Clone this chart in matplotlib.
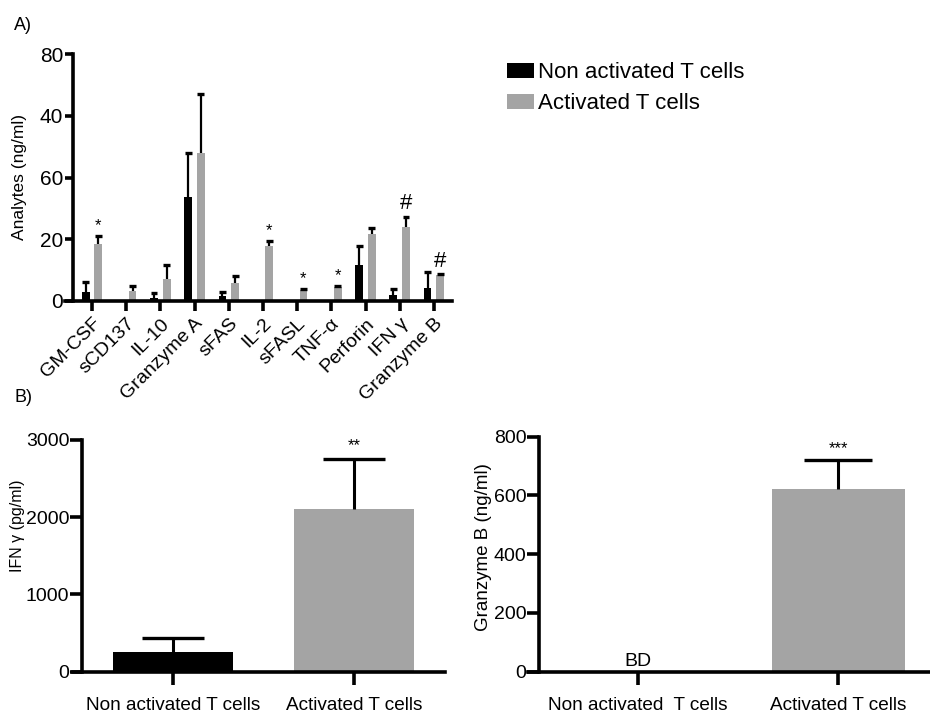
import matplotlib
matplotlib.use("Agg")
import matplotlib.pyplot as plt
import numpy as np
from matplotlib.patches import Patch

plt.rcParams['font.family'] = ['Liberation Sans', 'DejaVu Sans']

# ---- Panel A data ----
analytes = ["GM-CSF", "sCD137", "IL-10", "Granzyme A", "sFAS", "IL-2",
            "sFASL", "TNF-\u03b1", "Perforin", "IFN \u03b3", "Granzyme B"]
non_act = [3.0, 0.3, 0.9, 33.8, 1.7, 0.0, 0.3, 0.1, 11.8, 2.0, 4.1]
non_act_err = [3.3, 0.0, 1.8, 14.0, 1.1, 0.0, 0.0, 0.0, 6.0, 1.9, 5.4]
act = [18.4, 3.2, 7.0, 47.8, 5.7, 17.8, 3.6, 4.6, 21.6, 24.0, 8.4]
act_err = [2.7, 1.7, 4.5, 19.4, 2.4, 1.7, 0.2, 0.2, 2.1, 3.3, 0.2]
sig_marks = ["*", "", "", "", "", "*", "*", "*", "", "#", "#"]
a_yticks = [0, 20, 40, 60, 80]
a_yticklabels = ["0", "20", "60", "40", "80"]

# ---- Panel B data ----
groups = ["Non activated T cells", "Activated T cells"]
groups_right = ["Non activated  T cells", "Activated T cells"]
ifng = [259, 2107]
ifng_err = [173, 643]
gzmb = [0, 621]
gzmb_err = [0, 100]

W, H = 930, 713
BLACK = "#000000"
GREY = "#a4a4a4"

fig = plt.figure(figsize=(W / 100, H / 100), dpi=100)


def add_ax(x0, x1, ytop, ybot):
    return fig.add_axes([x0 / W, 1 - ybot / H, (x1 - x0) / W, (ybot - ytop) / H])


def style(ax, lw=2.6):
    for s in ("top", "right"):
        ax.spines[s].set_visible(False)
    for s in ("left", "bottom"):
        ax.spines[s].set_linewidth(lw)
    ax.tick_params(width=lw, length=6, direction="out", colors="black")


def upper_err(ax, xs, ys, es, half, lw=1.6, cap_lw=2.4):
    """Draw one-sided (upward) error bars with a flat cap."""
    xs = np.asarray(xs, float)
    ys = np.asarray(ys, float)
    es = np.asarray(es, float)
    keep = es > 0
    ax.vlines(xs[keep], ys[keep], ys[keep] + es[keep], color="black", lw=lw, zorder=3)
    ax.hlines(ys[keep] + es[keep], xs[keep] - half, xs[keep] + half, color="black",
              lw=cap_lw, zorder=3)


# ---------------- Panel A ----------------
axA = add_ax(65, 452, 54, 301)
style(axA)
x = np.arange(len(analytes))
bw = 0.23
off = 0.185
axA.bar(x - off, non_act, bw, color=BLACK, zorder=2)
axA.bar(x + off, act, bw, color=GREY, zorder=2)
upper_err(axA, x - off, non_act, non_act_err, 0.1)
upper_err(axA, x + off, act, act_err, 0.1)
for xi, v, e, m in zip(x, act, act_err, sig_marks):
    if m == "*":
        axA.text(xi + off, v + e + 1.0, m, ha="center", va="bottom", fontsize=12)
    elif m == "#":
        axA.text(xi + off, v + e + 0.8, m, ha="center", va="bottom", fontsize=16)
axA.set_xlim(-0.79, 10.53)
axA.set_ylim(0, 80)
axA.spines["left"].set_position(("data", -0.556))
axA.spines["left"].set_bounds(0, 80)
axA.set_yticks(a_yticks)
axA.set_yticklabels(a_yticklabels, fontsize=15)
axA.tick_params(axis="y", pad=1, length=6)
axA.set_xticks(x)
axA.set_xticklabels(analytes, rotation=45, ha="right", va="top",
                    rotation_mode="anchor", fontsize=14)
axA.tick_params(axis="x", length=7, pad=3)
axA.set_ylabel("Analytes (ng/ml)", fontsize=12.5)
axA.yaxis.set_label_coords(-0.097, 0.5)

fig.text(14 / W, 1 - 25 / H, "A)", fontsize=13, va="center", ha="left")

# legend
handles = [Patch(facecolor=BLACK, edgecolor="none"), Patch(facecolor=GREY, edgecolor="none")]
fig.legend(handles, ["Non activated T cells", "Activated T cells"],
           loc="upper left", bbox_to_anchor=(507 / W, 1 - 62 / H), frameon=False,
           fontsize=16, handlelength=1.2, handleheight=0.65, handletextpad=0.2,
           labelspacing=0.45, borderaxespad=0, borderpad=0)

# ---------------- Panel B left ----------------
fig.text(14 / W, 1 - 397 / H, "B)", fontsize=13, va="center", ha="left")

axB1 = add_ax(73, 445, 440, 671.7)
style(axB1)
xb = np.arange(2)
bwb = 0.665
axB1.bar(xb, ifng, bwb, color=[BLACK, GREY], zorder=2)
upper_err(axB1, xb, ifng, ifng_err, 0.17, lw=2.2, cap_lw=2.4)
axB1.text(1, ifng[1] + ifng_err[1] + 80, "**", ha="center", va="bottom", fontsize=12)
axB1.set_xlim(-0.552, 1.503)
axB1.set_ylim(0, 3000)
axB1.spines["left"].set_position(("data", -0.503))
axB1.spines["left"].set_bounds(0, 3000)
axB1.set_yticks([0, 1000, 2000, 3000])
axB1.set_yticklabels(["0", "1000", "2000", "3000"], fontsize=14)
axB1.tick_params(axis="y", pad=0, length=9)
axB1.set_xticks(xb)
axB1.set_xticklabels(groups, fontsize=13.7)
axB1.tick_params(axis="x", length=9, pad=9)
axB1.set_ylabel("IFN \u03b3 (pg/ml)", fontsize=11.5)
axB1.yaxis.set_label_coords(-0.13, 0.63)

# ---------------- Panel B right ----------------
axB2 = add_ax(528, 930, 436.7, 671.7)
style(axB2)
axB2.bar(xb, gzmb, bwb, color=[BLACK, GREY], zorder=2)
upper_err(axB2, xb, gzmb, gzmb_err, 0.17, lw=2.2, cap_lw=2.4)
axB2.text(1, gzmb[1] + gzmb_err[1] + 14, "***", ha="center", va="bottom", fontsize=12)
axB2.text(0, 6, "BD", ha="center", va="bottom", fontsize=14)
axB2.set_xlim(-0.55, 1.46)
axB2.set_ylim(0, 800)
axB2.spines["left"].set_position(("data", -0.495))
axB2.spines["left"].set_bounds(0, 800)
axB2.set_yticks([0, 200, 400, 600, 800])
axB2.set_yticklabels(["0", "200", "400", "600", "800"], fontsize=14)
axB2.tick_params(axis="y", pad=0, length=9)
axB2.set_xticks(xb)
axB2.set_xticklabels(groups_right, fontsize=13.7)
axB2.tick_params(axis="x", length=9, pad=9)
axB2.set_ylabel("Granzyme B (ng/ml)", fontsize=13.5)
axB2.yaxis.set_label_coords(-0.09, 0.53)

fig.savefig("out.png", dpi=100)
